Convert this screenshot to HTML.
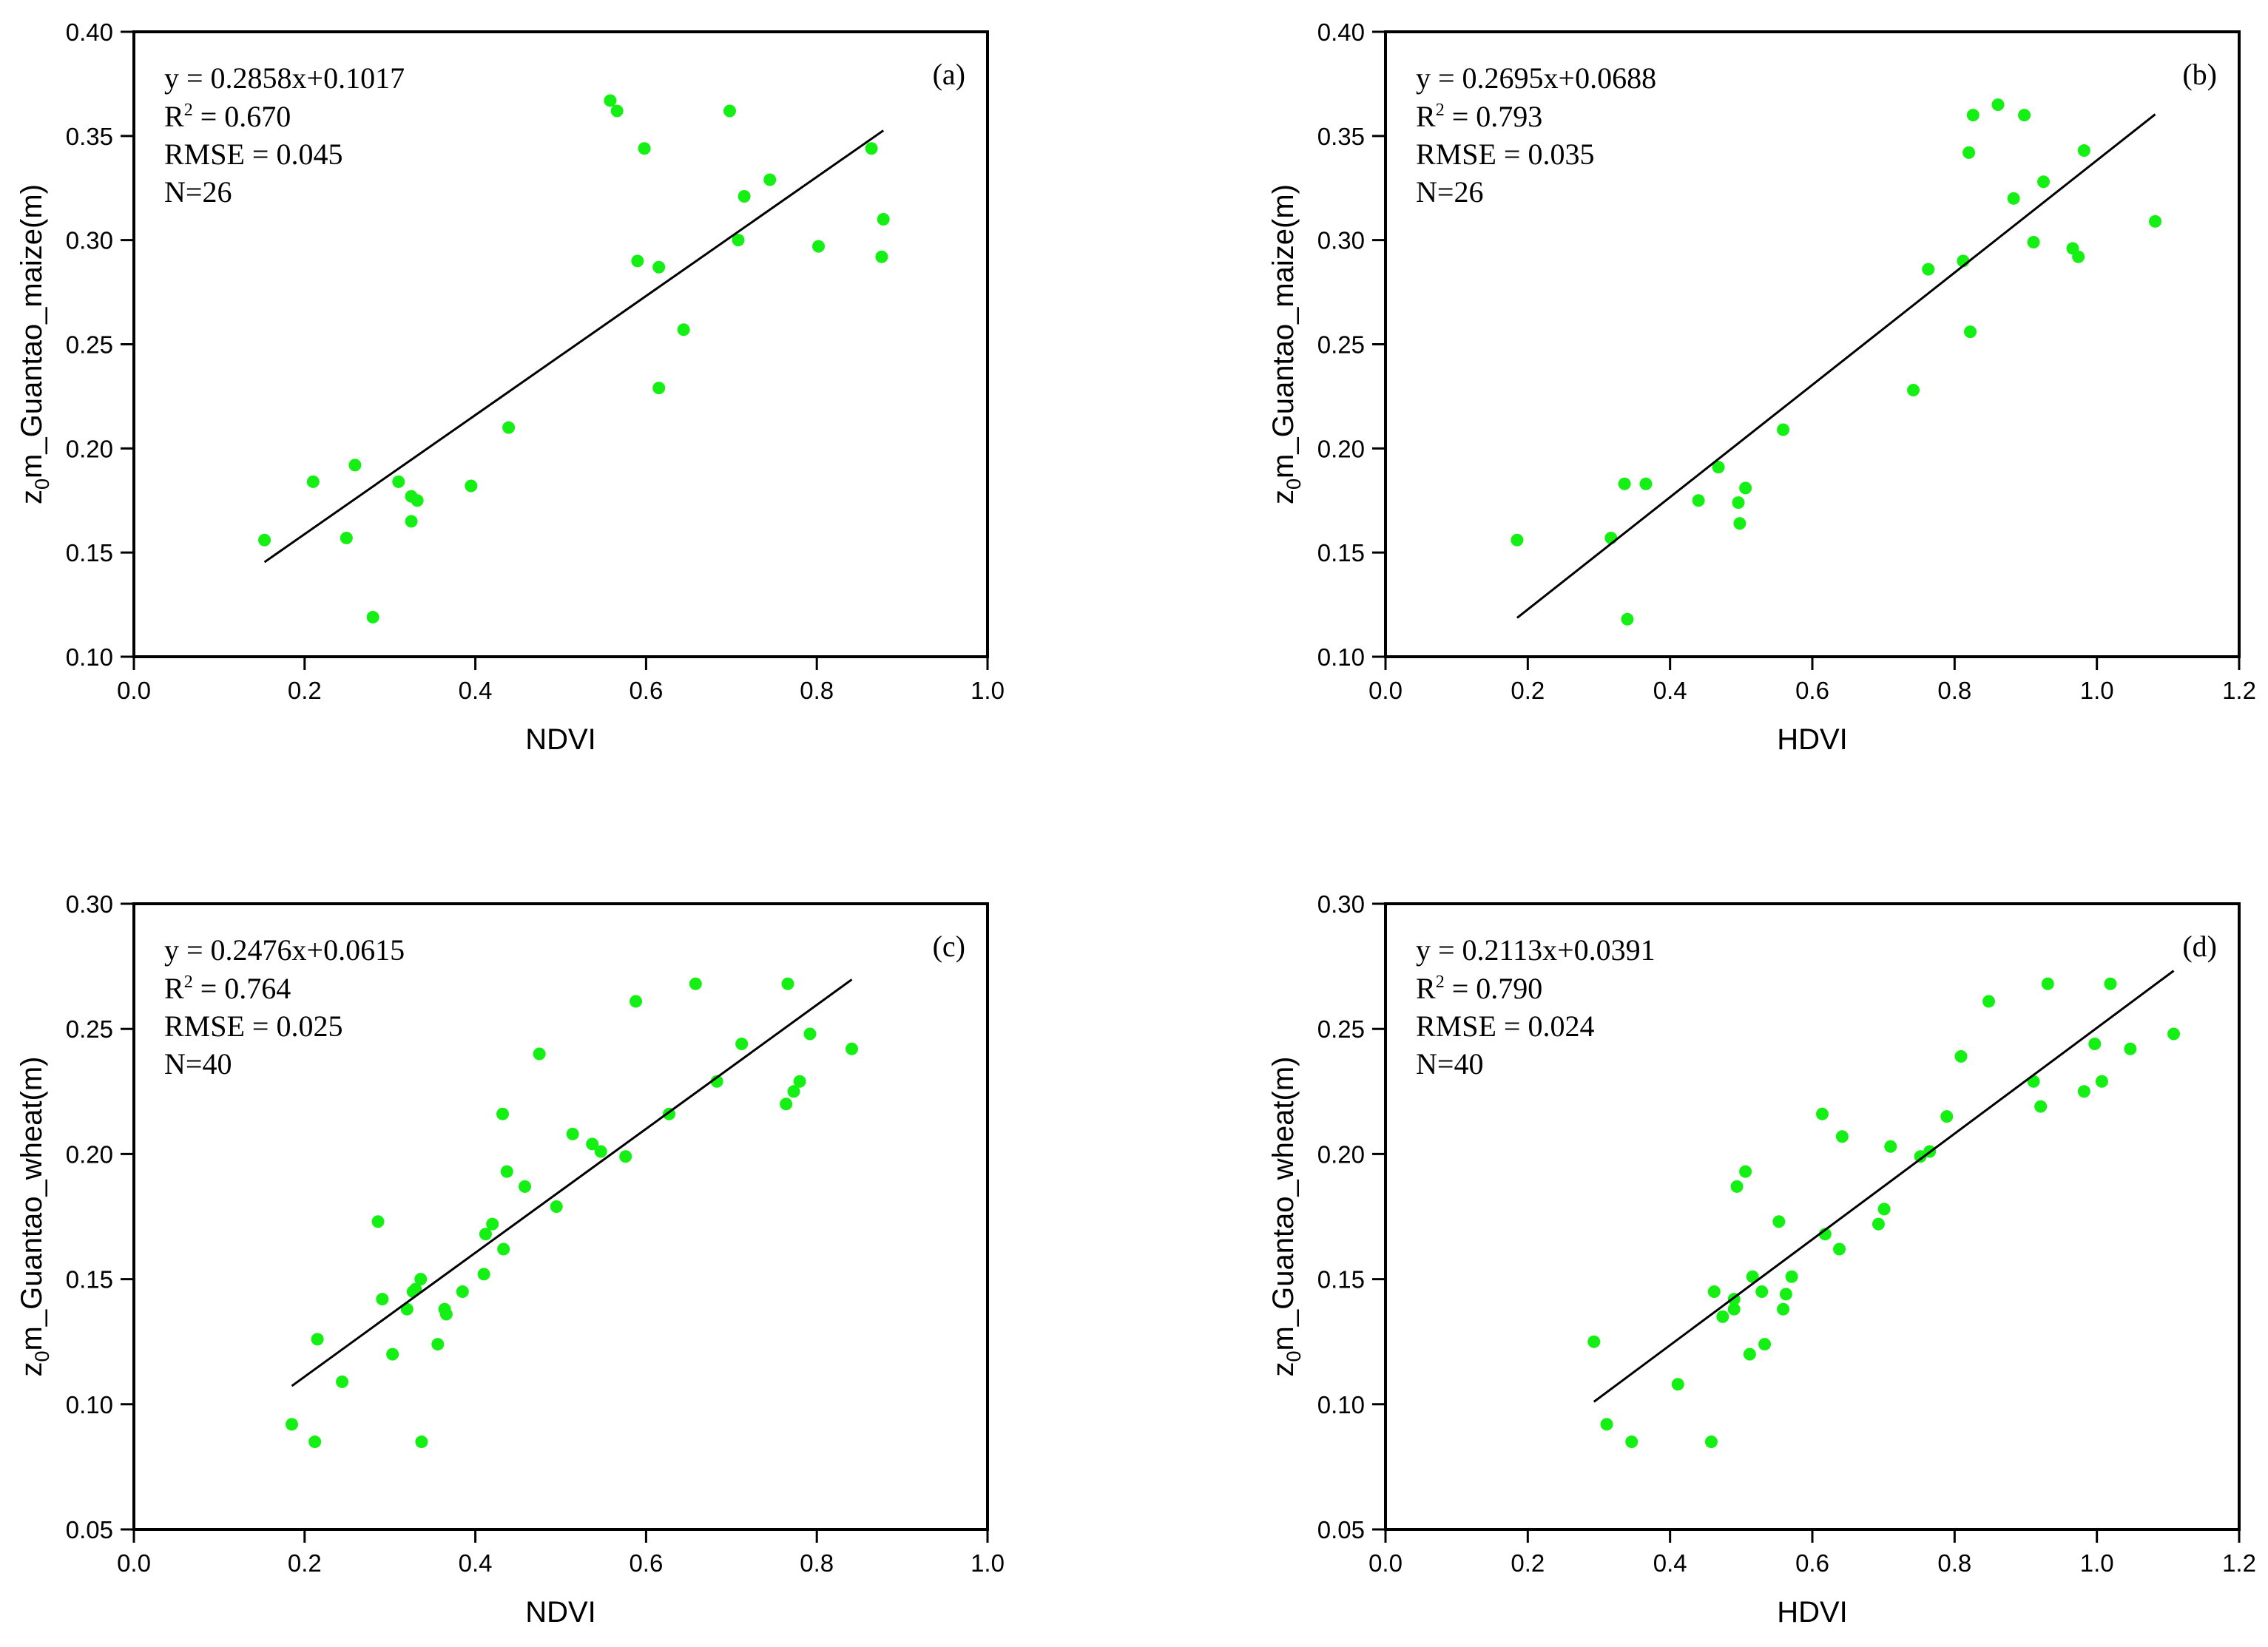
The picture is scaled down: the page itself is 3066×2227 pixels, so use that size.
<!DOCTYPE html>
<html><head><meta charset="utf-8"><style>
body{margin:0;background:#fff}
svg text{font-family:"Liberation Sans",sans-serif}
.st{font-family:"Liberation Serif",serif;font-size:40px}
</style></head><body>
<svg id="fig" width="3066" height="2222" viewBox="0 0 3066 2222" xmlns="http://www.w3.org/2000/svg"></svg>
<script>
// Panel (a)
const aX=[0.153,0.210,0.259,0.249,0.280,0.310,0.325,0.325,0.332,0.395,0.439,0.558,0.566,0.598,0.590,0.615,0.615,0.644,0.698,0.708,0.715,0.745,0.802,0.864,0.878,0.876];
const aY=[0.156,0.184,0.192,0.157,0.119,0.184,0.165,0.177,0.175,0.182,0.210,0.367,0.362,0.344,0.290,0.287,0.229,0.257,0.362,0.300,0.321,0.329,0.297,0.344,0.310,0.292];
const aFit=[0.2858,0.1017];
// Panel (b)
const bX=[0.185,0.317,0.336,0.366,0.340,0.440,0.468,0.496,0.506,0.498,0.559,0.742,0.763,0.812,0.820,0.826,0.822,0.861,0.883,0.898,0.911,0.925,0.966,0.974,0.982,1.082];
const bY=[0.156,0.157,0.183,0.183,0.118,0.175,0.191,0.174,0.181,0.164,0.209,0.228,0.286,0.290,0.342,0.360,0.256,0.365,0.320,0.360,0.299,0.328,0.296,0.292,0.343,0.309];
const bFit=[0.2695,0.0688];
// Panel (c)
const cX=[0.185,0.212,0.215,0.244,0.286,0.291,0.303,0.320,0.327,0.336,0.337,0.356,0.364,0.366,0.385,0.410,0.412,0.420,0.432,0.433,0.437,0.458,0.475,0.495,0.514,0.537,0.547,0.576,0.588,0.627,0.658,0.683,0.712,0.764,0.766,0.773,0.780,0.792,0.841,0.330];
const cY=[0.092,0.085,0.126,0.109,0.173,0.142,0.120,0.138,0.145,0.150,0.085,0.124,0.138,0.136,0.145,0.152,0.168,0.172,0.216,0.162,0.193,0.187,0.240,0.179,0.208,0.204,0.201,0.199,0.261,0.216,0.268,0.229,0.244,0.220,0.268,0.225,0.229,0.248,0.242,0.146];
const cFit=[0.2476,0.0615];
// Panel (d)
const dX=[0.293,0.311,0.346,0.411,0.462,0.458,0.474,0.490,0.490,0.494,0.506,0.512,0.516,0.529,0.533,0.553,0.559,0.563,0.571,0.614,0.618,0.638,0.642,0.693,0.701,0.710,0.752,0.765,0.789,0.809,0.848,0.911,0.921,0.931,0.982,0.997,1.007,1.019,1.047,1.108];
const dY=[0.125,0.092,0.085,0.108,0.145,0.085,0.135,0.138,0.142,0.187,0.193,0.120,0.151,0.145,0.124,0.173,0.138,0.144,0.151,0.216,0.168,0.162,0.207,0.172,0.178,0.203,0.199,0.201,0.215,0.239,0.261,0.229,0.219,0.268,0.225,0.244,0.229,0.268,0.242,0.248];
const dFit=[0.2113,0.0391];
const xTicks1=[0,0.2,0.4,0.6,0.8,1.0];
const xTicks2=[0,0.2,0.4,0.6,0.8,1.0,1.2];
const yTicksTop=[0.10,0.15,0.20,0.25,0.30,0.35,0.40];
const yTicksBot=[0.05,0.10,0.15,0.20,0.25,0.30];

const NS="http://www.w3.org/2000/svg";
const svg=document.getElementById('fig');
function mk(tag,attrs,parent,txt){const e=document.createElementNS(NS,tag);for(const k in attrs)e.setAttribute(k,attrs[k]);if(txt!==undefined)e.textContent=txt;parent.appendChild(e);return e;}

function panel(id,L,T,R,B,xmax,ymin,ymax,xt,yt,xs,ys,fit,letter,eq,r2,rmse,n,xlab,ylab,ytx){
  const g=mk('g',{},svg);
  
  
  const sx=v=>L+(v/xmax)*(R-L);
  const sy=v=>B-(v-ymin)/(ymax-ymin)*(B-T);
  const frame=mk('rect',{x:L,y:T,width:R-L,height:B-T,fill:'none',stroke:'#000','stroke-width':4},g);
  
  
  xt.forEach(v=>{
    const x=sx(v);
    mk('line',{x1:x,y1:B,x2:x,y2:B+18,stroke:'#000','stroke-width':3},g);
    const t=mk('text',{x:x,y:B+57,'font-size':33,'text-anchor':'middle'},g,v.toFixed(1));
    
    
  });
  yt.forEach(v=>{
    const y=sy(v);
    mk('line',{x1:L-18,y1:y,x2:L,y2:y,stroke:'#000','stroke-width':3},g);
    const t=mk('text',{x:L-28,y:y+12,'font-size':33,'text-anchor':'end'},g,v.toFixed(2));
    
    
  });
  xs.forEach((v,i)=>{
    const c=mk('circle',{cx:sx(v),cy:sy(ys[i]),r:8.5,fill:'#14f014'},g);
    
    
  });
  const x0=Math.min(...xs),x1=Math.max(...xs);
  const ln=mk('line',{x1:sx(x0),y1:sy(fit[0]*x0+fit[1]),x2:sx(x1),y2:sy(fit[0]*x1+fit[1]),stroke:'#000','stroke-width':3},g);
  
  
  const tx=L+41, ty=T+76;
  const s1=mk('text',{x:tx,y:ty,class:'st'},g,eq);
  
  
  const s2=mk('text',{x:tx,y:ty+52,class:'st'},g);
  
  
  mk('tspan',{},s2,'R');
  mk('tspan',{dy:-15,'font-size':24},s2,'2');
  mk('tspan',{dy:15},s2,' = '+r2);
  const s3=mk('text',{x:tx,y:ty+103,class:'st'},g,'RMSE = '+rmse);
  
  
  const s4=mk('text',{x:tx,y:ty+154,class:'st'},g,'N='+n);
  
  
  const pl=mk('text',{x:R-30,y:T+71,class:'st','font-size':34,'text-anchor':'end'},g,'('+letter+')');
  
  
  const xl=mk('text',{x:(L+R)/2,y:B+125,'font-size':40,'text-anchor':'middle'},g,xlab);
  
  
  const cy=(T+B)/2;
  const yl=mk('text',{x:0,y:0,'font-size':40,'text-anchor':'middle',transform:'translate('+ytx+','+cy+') rotate(-90)'},g);
  
  
  mk('tspan',{},yl,'z');
  mk('tspan',{dy:10,'font-size':27},yl,'0');
  mk('tspan',{dy:-10},yl,'m_'+ylab+'(m)');
}
panel('a',181,43,1335,888,1.0,0.10,0.40,xTicks1,yTicksTop,aX,aY,aFit,'a','y = 0.2858x+0.1017','0.670','0.045',26,'NDVI','Guantao_maize',56);
panel('b',1873,43,3027,888,1.2,0.10,0.40,xTicks2,yTicksTop,bX,bY,bFit,'b','y = 0.2695x+0.0688','0.793','0.035',26,'HDVI','Guantao_maize',1748);
panel('c',181,1222,1335,2068,1.0,0.05,0.30,xTicks1,yTicksBot,cX,cY,cFit,'c','y = 0.2476x+0.0615','0.764','0.025',40,'NDVI','Guantao_wheat',56);
panel('d',1873,1222,3027,2068,1.2,0.05,0.30,xTicks2,yTicksBot,dX,dY,dFit,'d','y = 0.2113x+0.0391','0.790','0.024',40,'HDVI','Guantao_wheat',1748);
</script>
</body></html>
